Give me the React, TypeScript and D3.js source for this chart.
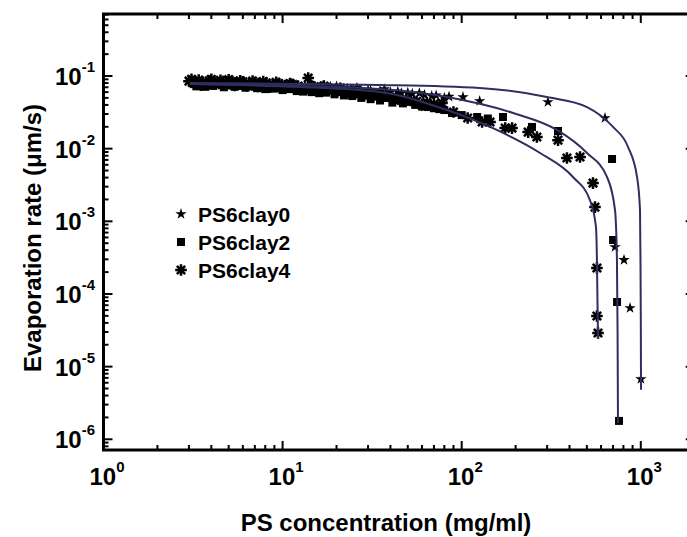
import React from "react";
import * as d3 from "d3";

// ---------- data ----------
const seriesNames = ["PS6clay0", "PS6clay2", "PS6clay4"];

const clay0X = [3.1, 3.3, 3.4, 3.5, 3.7, 3.9, 4.0, 4.2, 4.5, 4.6, 4.8, 5.1, 5.3, 5.5, 5.9, 6.1, 6.3, 6.8, 7.0, 7.3, 7.9, 8.1, 8.5, 9.2, 9.5, 10, 11, 11.5, 12, 13.3, 14, 14.8, 16.5, 17, 18.5, 20, 21, 23, 24, 26, 27, 30, 31, 35, 37, 40, 44, 46, 50, 53, 58, 62, 68, 72, 80, 85, 101.7, 126, 303, 631, 718, 806, 871, 1002];
const clay0Y = [0.081, 0.083, 0.087, 0.08, 0.082, 0.084, 0.085, 0.081, 0.08, 0.086, 0.082, 0.079, 0.084, 0.081, 0.078, 0.083, 0.08, 0.077, 0.082, 0.079, 0.076, 0.081, 0.078, 0.075, 0.079, 0.076, 0.074, 0.078, 0.075, 0.072, 0.076, 0.073, 0.07, 0.074, 0.071, 0.072, 0.068, 0.067, 0.066, 0.069, 0.065, 0.064, 0.063, 0.062, 0.066, 0.06, 0.061, 0.058, 0.059, 0.057, 0.058, 0.055, 0.053, 0.054, 0.05, 0.052, 0.0514, 0.0453, 0.0439, 0.0264, 4.43e-4, 2.94e-4, 6.41e-5, 6.76e-6];

const clay2X = [3.2, 3.3, 3.4, 3.6, 3.7, 3.8, 4.0, 4.1, 4.3, 4.6, 4.7, 4.9, 5.2, 5.4, 5.6, 6.0, 6.2, 6.5, 7.0, 7.2, 7.6, 8.0, 8.2, 8.9, 9.0, 9.6, 10, 10.5, 11, 11.5, 12, 12.6, 13, 13.8, 14.5, 15.2, 16, 16.8, 17.5, 18.6, 19.5, 20.6, 22, 23, 24.5, 26, 27.5, 29, 31, 33, 35, 38.3, 41, 44, 47, 52, 55, 60, 64.9, 70, 75, 80, 88.3, 100, 122, 140, 170, 247, 345, 691, 700, 737, 756];
const clay2Y = [0.078, 0.072, 0.076, 0.079, 0.071, 0.077, 0.075, 0.073, 0.078, 0.076, 0.07, 0.074, 0.077, 0.071, 0.075, 0.073, 0.069, 0.076, 0.071, 0.068, 0.074, 0.066, 0.072, 0.07, 0.067, 0.071, 0.064, 0.069, 0.066, 0.067, 0.062, 0.068, 0.061, 0.064, 0.06, 0.065, 0.058, 0.062, 0.059, 0.063, 0.056, 0.06, 0.054, 0.058, 0.053, 0.056, 0.05, 0.054, 0.048, 0.052, 0.046, 0.0498, 0.043, 0.047, 0.042, 0.044, 0.04, 0.038, 0.0374, 0.036, 0.035, 0.034, 0.031, 0.029, 0.0273, 0.026, 0.0273, 0.0199, 0.0175, 0.00721, 5.53e-4, 7.76e-5, 1.79e-6];

const clay4X = [3.0, 3.1, 3.2, 3.4, 3.5, 3.6, 3.9, 4.0, 4.2, 4.5, 4.6, 4.8, 5.0, 5.2, 5.4, 5.6, 5.8, 6.0, 6.3, 6.5, 6.8, 7.0, 7.3, 7.5, 7.8, 8.1, 8.5, 8.8, 9.2, 9.5, 10, 10.3, 11, 11.2, 12, 12.2, 13.9, 14.5, 15, 16, 16.5, 17, 18, 19, 20, 21, 22, 23, 24.5, 26, 27, 28.5, 30, 32, 34, 36, 38, 40, 43, 46, 49, 52, 56, 60, 64, 70, 77.6, 90, 108, 130, 144, 175, 191, 235, 263, 345, 387, 458, 541, 555, 569, 569, 577];
const clay4Y = [0.085, 0.09, 0.079, 0.088, 0.075, 0.082, 0.086, 0.09, 0.08, 0.087, 0.076, 0.081, 0.089, 0.084, 0.074, 0.079, 0.086, 0.083, 0.073, 0.078, 0.085, 0.081, 0.072, 0.077, 0.084, 0.08, 0.07, 0.076, 0.082, 0.079, 0.069, 0.074, 0.079, 0.077, 0.068, 0.073, 0.094, 0.072, 0.071, 0.066, 0.07, 0.073, 0.068, 0.064, 0.066, 0.068, 0.064, 0.059, 0.062, 0.063, 0.06, 0.055, 0.058, 0.057, 0.056, 0.052, 0.053, 0.051, 0.05, 0.046, 0.048, 0.046, 0.045, 0.04, 0.043, 0.041, 0.0425, 0.032, 0.0264, 0.0233, 0.0233, 0.0192, 0.0192, 0.0169, 0.0145, 0.0131, 0.00743, 0.00767, 0.00336, 0.00157, 2.28e-4, 4.98e-5, 2.9e-5];

// fitted curves
const fit0X = [3.04, 12.5, 35, 126, 299, 501, 700, 849, 953, 990, 996, 1000, 1003];
const fit0Y = [0.0801, 0.0776, 0.0752, 0.0684, 0.0514, 0.0374, 0.0199, 0.01054, 0.00407, 0.00143, 2.94e-4, 5e-5, 4.8e-6];
const fit2X = [3.04, 12.5, 35, 82.8, 193.5, 340, 501, 648, 718, 736, 742, 746];
const fit2Y = [0.0776, 0.0728, 0.0662, 0.0514, 0.031, 0.0181, 0.00871, 0.00407, 0.00143, 2.94e-4, 3e-5, 1.67e-6];
const fit4X = [3.04, 12.5, 35, 82.8, 157, 274, 418, 520, 562, 569, 573, 577];
const fit4Y = [0.0776, 0.0706, 0.0603, 0.034, 0.0181, 0.00871, 0.00407, 0.00196, 8.35e-4, 2.94e-4, 8e-5, 2.48e-5];

const xTickExps = [0, 1, 2, 3];
const yTickExps = [-1, -2, -3, -4, -5, -6];
const xTitle = "PS concentration (mg/ml)";
const yTitle = "Evaporation rate (\u03BCm/s)";

// ---------- layout ----------
const W = 687;
const H = 537;
const L = 103.5;
const R = 694.7;
const T = 14;
const B = 450;
const FONT = "'Liberation Sans', Arial, Helvetica, sans-serif";
const LINE = "#2f2f5f";

const x = d3.scaleLog().domain([1, 2000]).range([L, R]);
const y = d3.scaleLog().domain([7.12e-7, 0.7136]).range([B, T]);

const starPath = d3.symbol(d3.symbolStar, 40)() as string;
const squarePath = d3.symbol(d3.symbolSquare, 64)() as string;
const ar = 5.8;
const ad = ar * 0.72;
const asteriskPath = `M${-ar},0H${ar}M0,${-ar}V${ar}M${-ad},${-ad}L${ad},${ad}M${-ad},${ad}L${ad},${-ad}`;

function Marker({ kind, cx, cy }: { kind: number; cx: number; cy: number }) {
  if (kind === 0) return <path d={starPath} transform={`translate(${cx},${cy})`} fill="#000" />;
  if (kind === 1) return <path d={squarePath} transform={`translate(${cx},${cy})`} fill="#000" />;
  return <path d={asteriskPath} transform={`translate(${cx},${cy})`} stroke="#000" strokeWidth={2.5} fill="none" />;
}

function logTicks(lo: number, hi: number, d0: number, d1: number) {
  const out: { v: number; major: boolean }[] = [];
  for (let e = d0; e <= d1; e++) {
    for (let m = 1; m <= 9; m++) {
      const v = m * Math.pow(10, e);
      if (v >= lo * 0.9999 && v <= hi * 1.0001) out.push({ v, major: m === 1 });
    }
  }
  return out;
}

export default function App() {
  const line = d3
    .line<[number, number]>()
    .x((d) => x(d[0]))
    .y((d) => y(d[1]))
    .curve(d3.curveMonotoneX);

  const fits = [
    d3.zip(fit0X, fit0Y) as [number, number][],
    d3.zip(fit2X, fit2Y) as [number, number][],
    d3.zip(fit4X, fit4Y) as [number, number][],
  ];
  const series = [
    d3.zip(clay0X, clay0Y) as [number, number][],
    d3.zip(clay2X, clay2Y) as [number, number][],
    d3.zip(clay4X, clay4Y) as [number, number][],
  ];

  const xt = logTicks(1, 2000, 0, 3);
  const yt = logTicks(7.12e-7, 0.7136, -7, -1);
  const MAJ = 9;
  const MIN = 5;

  return (
    <svg width={W} height={H} style={{ position: "absolute", left: 0, top: 0, background: "#fff" }} fontFamily={FONT}>
      <rect x={0} y={0} width={W} height={H} fill="#fff" />
      {series.map((s, i) =>
        s.map((d, j) => <Marker key={`m${i}-${j}`} kind={i} cx={x(d[0])} cy={y(d[1])} />)
      )}
      {fits.map((f, i) => (
        <path key={`f${i}`} d={line(f) as string} fill="none" stroke={LINE} strokeWidth={2} />
      ))}
      <g stroke="#000" strokeWidth={2}>
        {xt.map((t, i) => {
          const px = x(t.v);
          const len = t.major ? MAJ : MIN;
          return (
            <g key={`xt${i}`}>
              <line x1={px} x2={px} y1={B} y2={B - len} />
              <line x1={px} x2={px} y1={T} y2={T + len} />
            </g>
          );
        })}
        {yt.map((t, i) => {
          const py = y(t.v);
          const len = t.major ? MAJ : MIN;
          return (
            <g key={`yt${i}`}>
              <line x1={L} x2={L + len} y1={py} y2={py} />
              <line x1={R} x2={R - len} y1={py} y2={py} />
            </g>
          );
        })}
      </g>
      <rect x={L} y={T} width={R - L} height={B - T} fill="none" stroke="#000" strokeWidth={3} />
      {xTickExps.map((e) => (
        <text key={`xl${e}`} x={x(Math.pow(10, e)) - 14} y={485} fontSize={24} fontWeight="bold" textAnchor="start">
          10
          <tspan fontSize={15} dy={-13}>{e}</tspan>
        </text>
      ))}
      {yTickExps.map((e) => (
        <text key={`yl${e}`} x={95} y={y(Math.pow(10, e)) + 9} fontSize={24} fontWeight="bold" textAnchor="end">
          10
          <tspan fontSize={15} dy={-13}>{e}</tspan>
        </text>
      ))}
      <text x={386} y={531} fontSize={24} fontWeight="bold" textAnchor="middle">{xTitle}</text>
      <text transform={`translate(41,238) rotate(-90)`} fontSize={24} fontWeight="bold" textAnchor="middle">{yTitle}</text>
      {seriesNames.map((n, i) => (
        <g key={`lg${i}`}>
          <Marker kind={i} cx={181} cy={214 + i * 28} />
          <text x={198} y={214 + i * 28 + 8} fontSize={21} fontWeight="bold">{n}</text>
        </g>
      ))}
    </svg>
  );
}
